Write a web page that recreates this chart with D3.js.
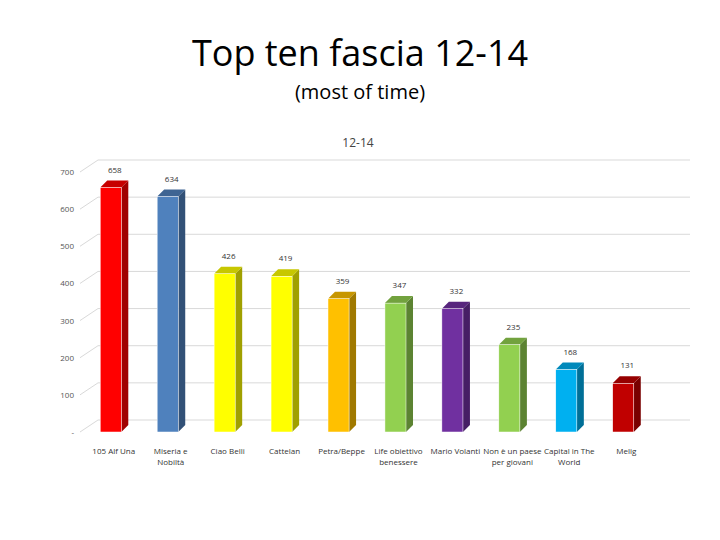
<!DOCTYPE html>
<html><head><meta charset="utf-8">
<script src="https://cdn.jsdelivr.net/npm/d3@7"></script>
<style>body{margin:0;background:#fff}text{font-family:"Open Sans",sans-serif}</style>
</head><body><div id="chart"></div>
<script>
const categories = ["105 Alf Una", "Miseria e|Nobiltà", "Ciao Belli", "Cattelan", "Petra/Beppe", "Life obiettivo|benessere", "Mario Volanti", "Non è un paese|per giovani", "Capital in The|World", "Melig"];
const values = [658, 634, 426, 419, 359, 347, 332, 235, 168, 131];
const colors = ["#ff0000", "#4f81bd", "#ffff00", "#ffff00", "#ffc000", "#92d050", "#7030a0", "#92d050", "#00b0f0", "#c00000"];
const ticks = [0, 100, 200, 300, 400, 500, 600, 700];

const svg = d3.select("#chart").append("svg").attr("width", 720).attr("height", 540);

svg.append("text").attr("x", 360).attr("y", 66).attr("text-anchor", "middle").attr("font-size", 36).text("Top ten fascia 12-14");
svg.append("text").attr("x", 360).attr("y", 99).attr("text-anchor", "middle").attr("font-size", 20).text("(most of time)");
svg.append("text").attr("x", 358).attr("y", 147).attr("text-anchor", "middle").attr("font-size", 12).attr("fill", "#444").text("12-14");

const x = d3.scaleBand().domain(categories).range([82, 652]).paddingInner(0.63).paddingOuter(0.32);
const y = d3.scaleLinear().domain([0, 700]).range([432, 172]);
const bx = 18, by = -12; // back wall offset
const dx = 7, dy = -7;   // bar depth

// grid + axis labels
ticks.forEach(t => {
  svg.append("line").attr("x1", 80).attr("y1", y(t)).attr("x2", 80 + bx).attr("y2", y(t) + by).attr("stroke", "#d9d9d9");
  svg.append("line").attr("x1", 80 + bx).attr("y1", y(t) + by).attr("x2", 690).attr("y2", y(t) + by).attr("stroke", "#d9d9d9");
  svg.append("text").attr("x", 74).attr("y", y(t) + 3).attr("text-anchor", "end").attr("font-size", 8).attr("fill", "#555").text(t === 0 ? "-" : t);
});

const w = x.bandwidth();
const g = svg.selectAll("g.bar").data(values).join("g").attr("class", "bar");
g.append("path").attr("d", (d, i) => {
  const x0 = x(categories[i]) + w, t = y(d);
  return `M${x0},${t}L${x0 + dx},${t + dy}L${x0 + dx},${y(0) + dy}L${x0},${y(0)}Z`;
}).attr("fill", (d, i) => d3.color(colors[i]).darker(1.3));
g.append("path").attr("d", (d, i) => {
  const x0 = x(categories[i]), t = y(d);
  return `M${x0},${t}L${x0 + dx},${t + dy}L${x0 + w + dx},${t + dy}L${x0 + w},${t}Z`;
}).attr("fill", (d, i) => d3.color(colors[i]).darker(0.7));
g.append("rect").attr("x", (d, i) => x(categories[i])).attr("y", d => y(d))
  .attr("width", w).attr("height", d => y(0) - y(d)).attr("fill", (d, i) => colors[i]).attr("stroke", "#fff").attr("stroke-width", 0.5);
g.append("text").attr("x", (d, i) => x(categories[i]) + w / 2 + 4).attr("y", d => y(d) - 15)
  .attr("text-anchor", "middle").attr("font-size", 8).attr("fill", "#333").text(d => d);

categories.forEach(c => {
  const t = svg.append("text").attr("x", x(c) + w / 2 + 3).attr("y", 454).attr("text-anchor", "middle").attr("font-size", 8).attr("fill", "#333");
  c.split("|").forEach((s, k) => t.append("tspan").attr("x", x(c) + w / 2 + 3).attr("dy", k ? 11 : 0).text(s));
});
</script></body></html>
